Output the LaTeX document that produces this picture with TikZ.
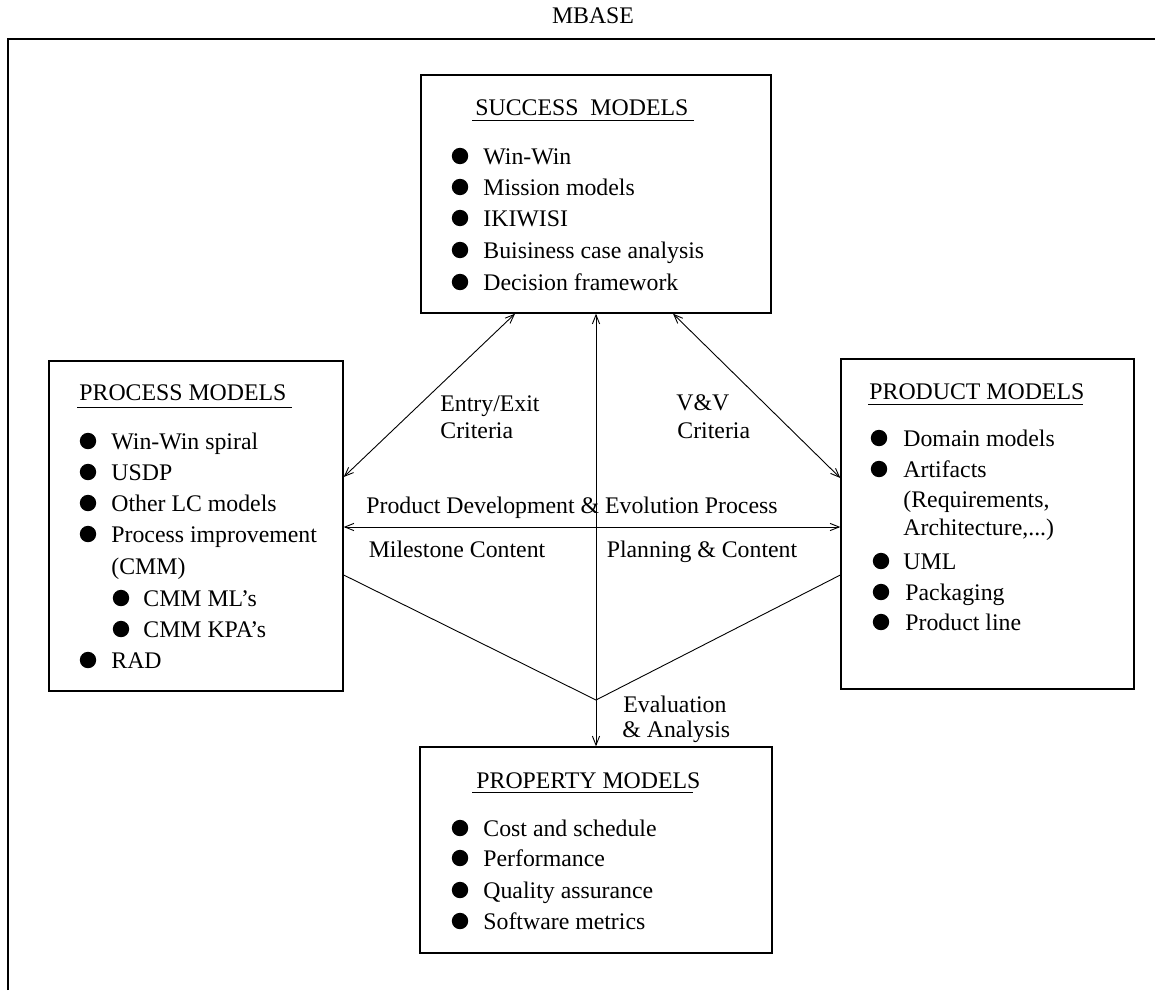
\documentclass[tikz,border=0pt]{standalone}
\usepackage{fontspec}
\setmainfont{Liberation Serif}
\usetikzlibrary{arrows.meta,calc}

% one bulleted line: bullet x, text x, baseline y, node name, text
\newcommand\bulletline[5]{%
  \fill (#1,#3-8) circle[radius=4.1pt];
  \node[itemtext] (#4) at (#2,#3) {#5};}

\begin{document}
\begin{tikzpicture}[x=0.5pt,y=-0.5pt,
  font=\fontsize{11.9}{14}\selectfont,
  modelbox/.style={draw,line width=0.7pt,inner sep=0pt},
  itemtext/.style={anchor=base west,inner sep=0pt},
  label/.style={anchor=base west,inner sep=0pt},
  clabel/.style={anchor=base,inner sep=0pt},
  link/.style={line width=0.45pt},
  twoway/.style={link,{Straight Barb[length=4.5pt,width=3.6pt]}-{Straight Barb[length=4.5pt,width=3.6pt]}},
  uline/.style={line width=0.5pt}]

\useasboundingbox (0,0) rectangle (1155,990);

% outer frame (top and left sides) with its title
\node[clabel] (title) at (593,24) {MBASE};
\draw[line width=1pt] (8,990) -- (8,39) -- (1155,39);

% the four model boxes
\node[modelbox,minimum width=175pt,minimum height=119pt] (succ) at (596,194) {};
\node[modelbox,minimum width=147pt,minimum height=165pt] (proc) at (196,526) {};
\node[modelbox,minimum width=146.5pt,minimum height=165pt] (prod) at (987.5,524) {};
\node[modelbox,minimum width=176pt,minimum height=103pt] (prop) at (596,850) {};

% success models
\node[label] (succT) at (475,116) {SUCCESS\ \ MODELS};
\draw[uline] (472,120) -- (694,120);
\bulletline{460}{483}{164}{s1}{Win-Win}
\bulletline{460}{483}{195}{s2}{Mission models}
\bulletline{460}{483}{226}{s3}{IKIWISI}
\bulletline{460}{483}{258}{s4}{Buisiness case analysis}
\bulletline{460}{483}{290}{s5}{Decision framework}

% process models
\node[label] (procT) at (79,400) {PROCESS MODELS};
\draw[uline] (77,407) -- (292,407);
\bulletline{88}{111}{449}{p1}{Win-Win spiral}
\bulletline{88}{111}{480}{p2}{USDP}
\bulletline{88}{111}{511}{p3}{Other LC models}
\bulletline{88}{111}{542}{p4}{Process improvement}
\node[itemtext] (p5) at (111,574) {(CMM)};
\bulletline{121}{143}{606}{p6}{CMM ML's}
\bulletline{121}{143}{637}{p7}{CMM KPA's}
\bulletline{88}{111}{668}{p8}{RAD}

% product models
\node[label] (prodT) at (869,399) {PRODUCT MODELS};
\draw[uline] (868,404) -- (1083,404);
\bulletline{879}{903}{446}{r1}{Domain models}
\bulletline{879}{903}{477}{r2}{Artifacts}
\node[itemtext] (r3) at (903,507) {(Requirements,};
\node[itemtext] (r4) at (903,535) {Architecture,...)};
\bulletline{881}{903}{569}{r5}{UML}
\bulletline{881}{905}{600}{r6}{Packaging}
\bulletline{881}{905}{630}{r7}{Product line}

% property models
\node[label] (propT) at (476,788) {PROPERTY MODELS};
\draw[uline] (472,792) -- (693,792);
\bulletline{460}{483}{836}{q1}{Cost and schedule}
\bulletline{460}{483}{866}{q2}{Performance}
\bulletline{460}{483}{898}{q3}{Quality assurance}
\bulletline{460}{483}{929}{q4}{Software metrics}

% connectors between the models
\coordinate (ev) at (596,700);
\draw[twoway] ($(succ.south)+(-81,0)$) -- ($(proc.east)+(0,-49)$);
\draw[twoway] ($(succ.south)+(77,0)$) -- ($(prod.west)+(0,-46)$);
\draw[twoway] (succ.south) -- (prop.north);
\draw[twoway] ($(proc.east)+(0,1)$) -- ($(prod.west)+(0,3)$);
\draw[link] ($(proc.east)+(0,49)$) -- (ev) -- ($(prod.west)+(0,51)$);

% connector labels
\node[label] (ee1) at (440,411) {Entry/Exit};
\node[label] (ee2) at (440,438) {Criteria};
\node[label] (vv1) at (676,410) {V\&V};
\node[label] (vv2) at (677,438) {Criteria};
\node[clabel] (pdep) at (572,513) {Product Development \& Evolution Process};
\node[clabel] (msc) at (457,557) {Milestone Content};
\node[clabel] (plc) at (702,557) {Planning \& Content};
\node[label] (ea1) at (623,712) {Evaluation};
\node[label] (ea2) at (622,737) {\& Analysis};
\end{tikzpicture}
\end{document}
